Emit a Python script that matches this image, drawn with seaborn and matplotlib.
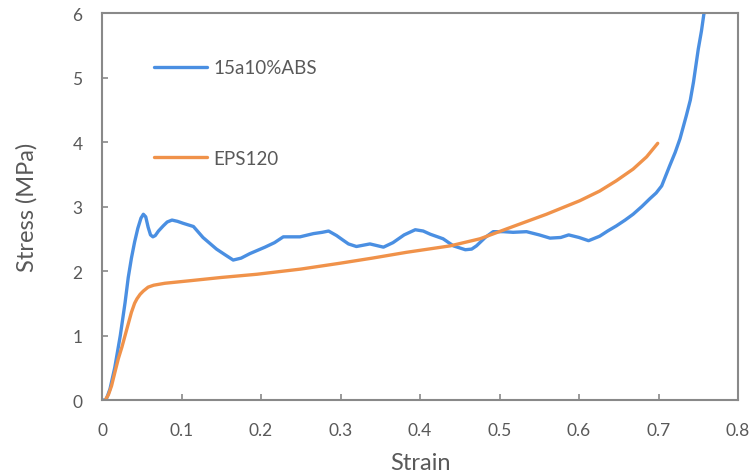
import matplotlib
matplotlib.use("Agg")
import matplotlib.pyplot as plt
import seaborn as sns
import pandas as pd

# --- data ---
abs_strain = [0.000, 0.005, 0.010, 0.016, 0.023, 0.029, 0.033, 0.037, 0.041, 0.045, 0.049,
              0.052, 0.055, 0.058, 0.061, 0.064, 0.067, 0.071, 0.077, 0.082, 0.088, 0.095,
              0.102, 0.115, 0.127, 0.144, 0.155, 0.165, 0.175, 0.186, 0.205, 0.217, 0.228,
              0.249, 0.266, 0.277, 0.285, 0.295, 0.303, 0.310, 0.320, 0.337, 0.354, 0.366,
              0.380, 0.394, 0.404, 0.413, 0.429, 0.442, 0.457, 0.465, 0.471, 0.482, 0.492,
              0.505, 0.517, 0.534, 0.550, 0.5635, 0.577, 0.587, 0.600, 0.612, 0.626, 0.636,
              0.647, 0.658, 0.668, 0.679, 0.689, 0.697, 0.704, 0.714, 0.721, 0.727, 0.735,
              0.740, 0.744, 0.750, 0.754, 0.757, 0.760]
abs_stress = [0.00, 0.00, 0.17, 0.50, 1.00, 1.51, 1.90, 2.20, 2.45, 2.66, 2.82,
              2.88, 2.84, 2.68, 2.56, 2.53, 2.55, 2.62, 2.70, 2.76, 2.79, 2.77,
              2.74, 2.69, 2.52, 2.34, 2.25, 2.17, 2.20, 2.27, 2.37, 2.44, 2.53,
              2.53, 2.58, 2.60, 2.62, 2.55, 2.48, 2.42, 2.38, 2.42, 2.37, 2.44,
              2.56, 2.64, 2.62, 2.57, 2.50, 2.39, 2.33, 2.34, 2.39, 2.52, 2.61,
              2.61, 2.60, 2.61, 2.56, 2.51, 2.52, 2.56, 2.52, 2.47, 2.54, 2.62,
              2.70, 2.79, 2.88, 3.00, 3.12, 3.21, 3.32, 3.63, 3.84, 4.05, 4.41,
              4.65, 4.93, 5.44, 5.72, 5.98, 6.10]

eps_strain = [0.004, 0.008, 0.012, 0.016, 0.0205, 0.025, 0.029, 0.033, 0.037, 0.041, 0.044,
              0.048, 0.052, 0.058, 0.065, 0.079, 0.095, 0.111, 0.150, 0.195, 0.250,
              0.299, 0.340, 0.383, 0.438, 0.4755, 0.517, 0.559, 0.601, 0.626, 0.647,
              0.668, 0.685, 0.699]
eps_stress = [0.00, 0.08, 0.22, 0.42, 0.64, 0.82, 1.00, 1.18, 1.36, 1.50, 1.57,
              1.64, 1.69, 1.75, 1.78, 1.81, 1.83, 1.85, 1.90, 1.95, 2.03,
              2.12, 2.20, 2.29, 2.39, 2.50, 2.69, 2.88, 3.09, 3.24, 3.40,
              3.58, 3.77, 3.98]

labels = ["15a10%ABS", "EPS120"]
colors = ["#4A8FE2", "#F0924A"]

df = pd.concat([
    pd.DataFrame({"Strain": abs_strain, "Stress": abs_stress, "series": labels[0]}),
    pd.DataFrame({"Strain": eps_strain, "Stress": eps_stress, "series": labels[1]}),
])

sns.set_theme(style="white")
plt.rcParams["font.family"] = ["Lato", "DejaVu Sans"]
plt.rcParams["lines.solid_joinstyle"] = "round"
plt.rcParams["lines.solid_capstyle"] = "round"

fig = plt.figure(figsize=(7.54, 4.77), dpi=100)
ax = fig.add_axes([0.1353, 0.1593, 0.9788 - 0.1353, 0.9706 - 0.1593])

sns.lineplot(data=df, x="Strain", y="Stress", hue="series", hue_order=labels,
             palette=colors, estimator=None, sort=False, linewidth=2.4, ax=ax)

ax.set_xlim(0, 0.8)
ax.set_ylim(0, 6)
ax.set_xticks([0, 0.1, 0.2, 0.3, 0.4, 0.5, 0.6, 0.7, 0.8])
ax.set_xticklabels(["0", "0.1", "0.2", "0.3", "0.4", "0.5", "0.6", "0.7", "0.8"])
ax.set_yticks(range(7))

spine_c = "#898989"
text_c = "#595959"
for s in ax.spines.values():
    s.set_color(spine_c)
    s.set_linewidth(1.5)
    s.set_visible(True)
ax.tick_params(axis="both", direction="in", length=4, width=1.2, color=spine_c,
               labelcolor=text_c, labelsize=12.5)
ax.tick_params(axis="x", pad=16, bottom=True)
ax.tick_params(axis="y", pad=14, left=True)

ax.set_xlabel("Strain", fontsize=17, color=text_c, labelpad=10)
ax.set_ylabel("Stress (MPa)", fontsize=17, color=text_c, labelpad=25)

handles, _ = ax.get_legend_handles_labels()
leg = ax.legend(handles=handles, labels=labels, loc="upper left",
                bbox_to_anchor=(0.082, 0.88), frameon=False, fontsize=13.5,
                handlelength=2.8, handletextpad=0.35, labelspacing=3.9,
                borderpad=0, borderaxespad=0)
for t in leg.get_texts():
    t.set_color(text_c)

fig.savefig("out.png", dpi=100)
